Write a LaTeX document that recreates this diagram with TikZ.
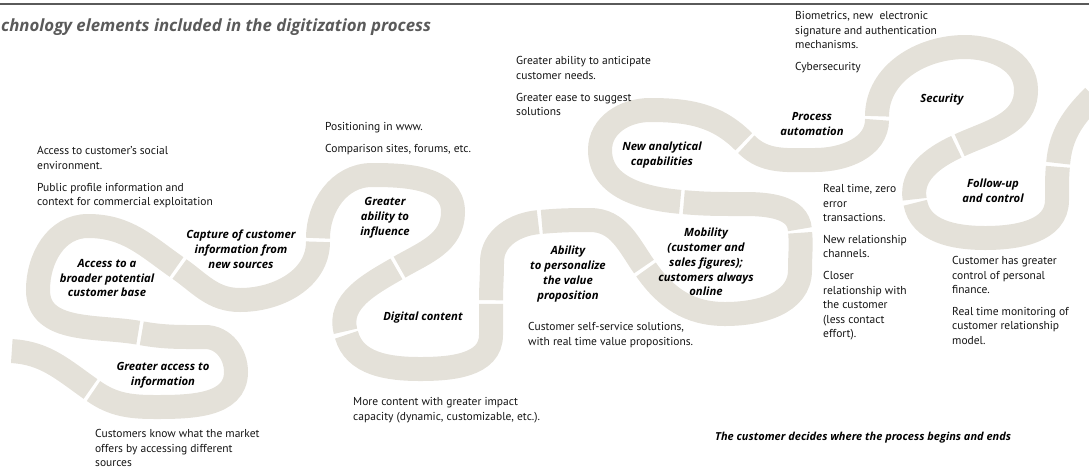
\documentclass[tikz,border=0pt]{standalone}
\usepackage{fontspec}
\setmainfont{PT Sans}
\newfontfamily\labfont{Open Sans}
\definecolor{ribbon}{HTML}{E4E1D9}
\definecolor{titlegray}{HTML}{5A5A5A}
\definecolor{txt}{HTML}{141414}
\begin{document}
\begin{tikzpicture}[x=1pt,y=-1pt,
  band/.style={draw=ribbon, line width=24pt, shorten <=1.8pt, shorten >=1.8pt},
  desc/.style={anchor=north west, inner sep=0pt, align=left, text=txt, font=\fontsize{11.5}{14.4}\selectfont},
  lab/.style={inner sep=0pt, align=center, text=black, font=\labfont\fontsize{11.3}{14.8}\selectfont\bfseries\itshape},
]
\useasboundingbox (0,0) rectangle (1089,467);
% top rule
\coordinate (rl) at (0,4); \coordinate (rr) at (1089,4);
\draw[titlegray, line width=1.6pt] (rl) -- (rr);
% title
\node[anchor=west, inner sep=0pt, text=titlegray, font=\labfont\fontsize{16.8}{20}\selectfont\bfseries\itshape] (title) at (1,27) {chnology elements included in the digitization process};

% ribbon
\coordinate (s0) at (10,351);
\coordinate (g1) at (92,390);
\coordinate (g2) at (140,333);
\coordinate (g3) at (178,268);
\coordinate (g4) at (318,240);
\coordinate (g5) at (398,268);
\coordinate (g6) at (346,333);
\coordinate (g7) at (491,302);
\coordinate (g8) at (540,222);
\coordinate (g9) at (645,268);
\coordinate (g10) at (800,231);
\coordinate (g11) at (682,202);
\coordinate (g12) at (745,143);
\coordinate (g13) at (877,118);
\coordinate (g14) at (958,146);
\coordinate (g15) at (915,201);
\coordinate (g16) at (1058,165);
\coordinate (e0) at (1095,95);

\draw[band] (s0) to[out=-3,in=145] (g1);
\draw[band] (g1) to[out=-35,in=180] (155,407) to[out=0,in=-90] (236,372) to[out=90,in=0] (205,337) to[out=180,in=-10] (g2);
\draw[band] (g2) to[out=170,in=-90] (38,290) to[out=90,in=180] (88,226) to[out=0,in=145] (g3);
\draw[band] (g3) to[out=-35,in=180] (240,300) to[out=0,in=-90] (g4);
\draw[band] (g4) to[out=90,in=180] (372,175) to[out=0,in=90] (453,212) to[out=-90,in=30] (g5);
\draw[band] (g5) to[out=210,in=105] (g6);
\draw[band] (g6) to[out=-75,in=180] (420,369) to[out=0,in=-90] (491,335) to[out=90,in=-90] (g7);
\draw[band] (g7) to[out=90,in=-90] (492,262) to[out=90,in=185] (g8);
\draw[band] (g8) to[out=5,in=180] (590,220) to[out=0,in=125] (g9);
\draw[band] (g9) to[out=-55,in=180] (725,314) to[out=0,in=-90] (800,270) to[out=90,in=-85] (g10);
\draw[band] (g10) to[out=95,in=0] (745,204) to[out=180,in=-5] (g11);
\draw[band] (g11) to[out=175,in=-90] (600,150) to[out=90,in=180] (650,110) to[out=0,in=135] (g12);
\draw[band] (g12) to[out=-45,in=180] (815,160) to[out=0,in=-90] (g13);
\draw[band] (g13) to[out=90,in=180] (965,47) to[out=0,in=90] (1026,90) to[out=-90,in=25] (g14);
\draw[band] (g14) to[out=205,in=100] (g15);
\draw[band] (g15) to[out=-80,in=180] (985,238) to[out=0,in=-90] (1057,200) to[out=90,in=-95] (g16);
\draw[band] (g16) to[out=85,in=225] (e0);

% labels
\node[lab] (l1) at (107,278) {Access to a\\broader potential\\customer base};
\node[lab] (l2) at (241,249) {Capture of customer\\information from\\new sources};
\node[lab] (l3) at (385,218) {Greater\\ability to\\influence};
\node[lab] (l4) at (423,318) {Digital content};
\node[lab] (l5) at (163,375) {Greater access to\\information};
\node[lab] (l6) at (568,274) {Ability\\to personalize\\the value\\proposition};
\node[lab] (l7) at (706,262) {Mobility\\(customer and\\sales figures);\\customers always\\online};
\node[lab] (l8) at (662,155) {New analytical\\capabilities};
\node[lab] (l9) at (812,124) {Process\\automation};
\node[lab] (l10) at (942,100) {Security};
\node[lab, font=\labfont\fontsize{11}{14.8}\selectfont\bfseries\itshape, anchor=west] (l12) at (715,438) {The customer decides where the process begins and ends};
\node[lab] (l11) at (993,191) {Follow-up\\and control};

% descriptions
\node[desc] (d1) at (37,146.5) {Access to customer's social\\environment.\\[7.5pt]Public profile information and\\context for commercial exploitation};
\node[desc] (d2) at (325,122.5) {Positioning in www.\\[7.5pt]Comparison sites, forums, etc.};
\node[desc] (d3) at (516,56.5) {Greater ability to anticipate\\customer needs.\\[7.5pt]Greater ease to suggest\\solutions};
\node[desc] (d4) at (795,11.5) {Biometrics, new\ \ electronic\\signature and authentication\\mechanisms.\\[7.5pt]Cybersecurity};
\node[desc] (d5) at (823,184.5) {Real time, zero\\error\\transactions.\\[7.5pt]New relationship\\channels.\\[7.5pt]Closer\\relationship with\\the customer\\(less contact\\effort).};
\node[desc] (d6) at (952,256.5) {Customer has greater\\control of personal\\finance.\\[7.5pt]Real time monitoring of\\customer relationship\\model.};
\node[desc] (d7) at (528,322.5) {Customer self-service solutions,\\with real time value propositions.};
\node[desc] (d8) at (353,397.5) {More content with greater impact\\capacity (dynamic, customizable, etc.).};
\node[desc] (d9) at (95,429.5) {Customers know what the market\\offers by accessing different\\sources};
\end{tikzpicture}
\end{document}
